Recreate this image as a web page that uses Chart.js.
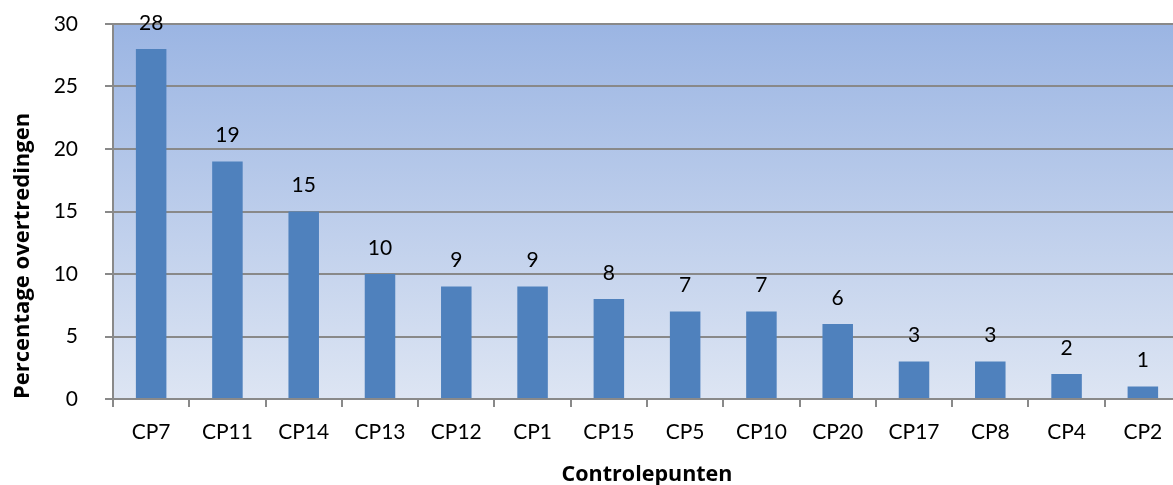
<!DOCTYPE html>
<html>
<head>
<meta charset="utf-8">
<script src="https://cdn.jsdelivr.net/npm/chart.js@4/dist/chart.umd.min.js"></script>
<style>
  html, body { margin: 0; padding: 0; background: #fff; overflow: hidden; }
  #chart { display: block; }
</style>
</head>
<body>
<canvas id="chart" width="1181" height="485"></canvas>
<script>
// data
const categories = ['CP7', 'CP11', 'CP14', 'CP13', 'CP12', 'CP1', 'CP15', 'CP5', 'CP10', 'CP20', 'CP17', 'CP8', 'CP4', 'CP2'];
const values = [28, 19, 15, 10, 9, 9, 8, 7, 7, 6, 3, 3, 2, 1];
const yTicks = [0, 5, 10, 15, 20, 25, 30];

const FONT = 'Lato, "Open Sans", sans-serif';
const TITLE_FONT = '"Open Sans", sans-serif';
const GRID = '#898989';

// blue gradient behind the plot area
const plotBackground = {
  id: 'plotBackground',
  beforeDraw(chart) {
    const { ctx, chartArea: a } = chart;
    const g = ctx.createLinearGradient(0, a.top, 0, a.bottom);
    g.addColorStop(0, '#9bb5e3');
    g.addColorStop(1, '#dde5f3');
    ctx.save();
    ctx.fillStyle = g;
    ctx.fillRect(a.left, a.top, a.right - a.left, a.bottom - a.top);
    ctx.restore();
  }
};

// value labels above each bar
const valueLabels = {
  id: 'valueLabels',
  afterDatasetsDraw(chart) {
    const ctx = chart.ctx;
    const meta = chart.getDatasetMeta(0);
    ctx.save();
    ctx.font = '21px ' + FONT;
    ctx.fillStyle = '#000';
    ctx.textAlign = 'center';
    ctx.textBaseline = 'middle';
    meta.data.forEach((bar, i) => {
      ctx.fillText(String(values[i]), bar.x, bar.y - 26);
    });
    ctx.restore();
  }
};

new Chart(document.getElementById('chart'), {
  type: 'bar',
  data: {
    labels: categories,
    datasets: [{
      data: values,
      backgroundColor: '#4f81bd',
      borderWidth: 0,
      categoryPercentage: 1,
      barPercentage: 0.4
    }]
  },
  options: {
    responsive: false,
    animation: false,
    layout: { padding: { top: 24, left: 0, right: 0, bottom: 0 } },
    plugins: {
      legend: { display: false },
      tooltip: { enabled: false }
    },
    scales: {
      x: {
        afterFit: (scale) => { scale.height = 86; },
        grid: { drawOnChartArea: false, drawTicks: true, tickLength: 8, color: GRID, lineWidth: 2 },
        border: { color: GRID, width: 2 },
        ticks: { color: '#000', font: { family: FONT, size: 21 }, padding: 13, maxRotation: 0, autoSkip: false },
        title: {
          display: true,
          text: 'Controlepunten',
          color: '#000',
          font: { family: TITLE_FONT, size: 21.5, weight: 'bold' },
          padding: { top: 0, bottom: -3 }
        }
      },
      y: {
        min: 0,
        max: 30,
        afterFit: (scale) => {
          scale.width = 113;
          scale.paddingTop = 0;
          scale.paddingBottom = 0;
        },
        afterBuildTicks: (scale) => { scale.ticks = yTicks.map(v => ({ value: v })); },
        grid: { color: GRID, lineWidth: 2, tickLength: 8 },
        border: { color: GRID, width: 2 },
        ticks: { color: '#000', font: { family: FONT, size: 21 }, padding: 27 },
        title: {
          display: true,
          text: 'Percentage overtredingen',
          align: 'start',
          color: '#000',
          font: { family: TITLE_FONT, size: 22, weight: 'bold' },
          padding: { top: 10, bottom: 0 }
        }
      }
    }
  },
  plugins: [plotBackground, valueLabels]
});
</script>
</body>
</html>
